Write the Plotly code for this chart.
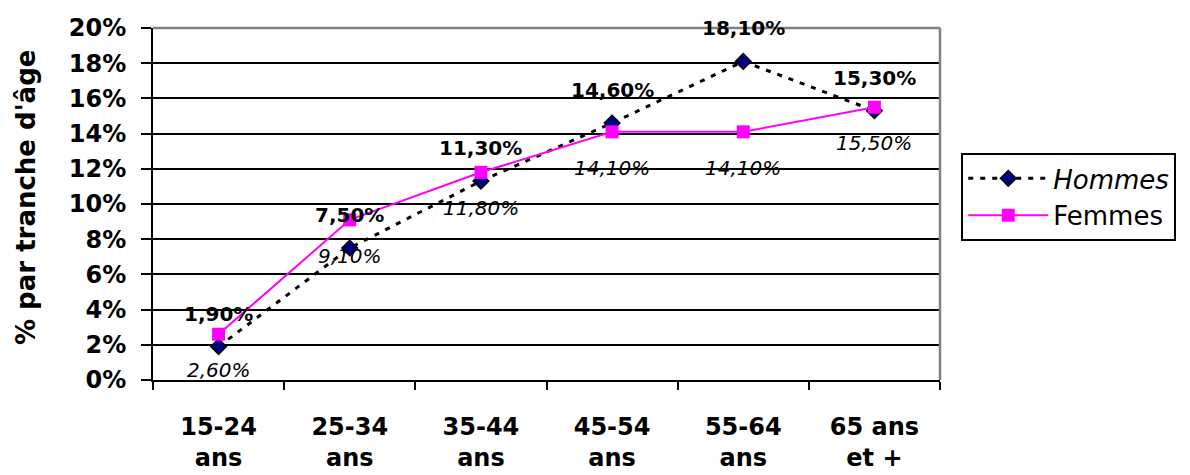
import plotly.graph_objects as go

# Tranches d'âge et taux par sexe (en %)
categories = ["15-24<br>ans", "25-34<br>ans", "35-44<br>ans", "45-54<br>ans", "55-64<br>ans", "65 ans<br>et +"]
hommes = [1.9, 7.5, 11.3, 14.6, 18.1, 15.3]
femmes = [2.6, 9.1, 11.8, 14.1, 14.1, 15.5]
y_ticks = [0, 2, 4, 6, 8, 10, 12, 14, 16, 18, 20]

FONT = "DejaVu Sans, Verdana, sans-serif"


def fr_pct(v):
    return f"{v:.2f}%".replace(".", ",")


fig = go.Figure()

fig.add_trace(go.Scatter(
    x=categories, y=hommes, name="<i>Hommes</i>", mode="lines+markers",
    line=dict(color="black", width=3, dash="5px,7px"),
    marker=dict(symbol="diamond", size=12, color="#000080",
                line=dict(color="black", width=1.5)),
))
fig.add_trace(go.Scatter(
    x=categories, y=femmes, name="Femmes", mode="lines+markers",
    line=dict(color="#FF00FF", width=2),
    marker=dict(symbol="square", size=13, color="#FF00FF"),
))

annotations = []
for c, v in zip(categories, hommes):
    annotations.append(dict(
        x=c, y=v, text=fr_pct(v), showarrow=False, yshift=33,
        font=dict(family=FONT, size=20, color="black", weight="bold"),
    ))
for c, v in zip(categories, femmes):
    annotations.append(dict(
        x=c, y=v, text=fr_pct(v), showarrow=False, yshift=-36,
        font=dict(family=FONT, size=20, color="black", style="italic"),
    ))
# Titre de l'axe vertical
annotations.append(dict(
    x=0, y=0.5, xref="paper", yref="paper", text="% par tranche d'âge",
    textangle=-90, showarrow=False, xanchor="center", yanchor="middle",
    xshift=-127, yshift=6,
    font=dict(family=FONT, size=26, color="black", weight="bold"),
))

fig.update_layout(
    width=1190, height=475,
    margin=dict(l=153, r=250, t=28, b=95),
    paper_bgcolor="white", plot_bgcolor="white",
    font=dict(family=FONT, color="black"),
    showlegend=True,
    legend=dict(
        x=1.027, y=0.645, xanchor="left", yanchor="top",
        bgcolor="white", bordercolor="black", borderwidth=2,
        font=dict(family=FONT, size=26, color="black"),
        itemwidth=80, tracegroupgap=6,
    ),
    annotations=annotations,
    shapes=[
        # cadre de la zone de tracé (haut et droite en gris)
        dict(type="line", xref="paper", yref="paper", x0=0, x1=1, y0=1, y1=1,
             line=dict(color="#808080", width=2.5)),
        dict(type="line", xref="paper", yref="paper", x0=1, x1=1, y0=0, y1=1,
             line=dict(color="#808080", width=2.5)),
    ],
)

fig.update_xaxes(
    type="category", range=[-0.5, len(categories) - 0.5],
    tickson="boundaries", automargin=False,
    showline=True, linecolor="black", linewidth=2,
    ticks="outside", ticklen=8, tickcolor="black", tickwidth=2,
    showgrid=False, ticklabelstandoff=24,
    tickfont=dict(family=FONT, size=24, color="black", weight="bold"),
)
fig.update_yaxes(
    range=[0, 20], tickvals=y_ticks, ticktext=[f"{t}%" for t in y_ticks],
    automargin=False,
    showline=True, linecolor="black", linewidth=2,
    ticks="outside", ticklen=10, tickcolor="black", tickwidth=2,
    showgrid=True, gridcolor="black", gridwidth=2,
    zeroline=False, ticklabelstandoff=10,
    tickfont=dict(family=FONT, size=24, color="black", weight="bold"),
)

fig.write_html("out.html")
